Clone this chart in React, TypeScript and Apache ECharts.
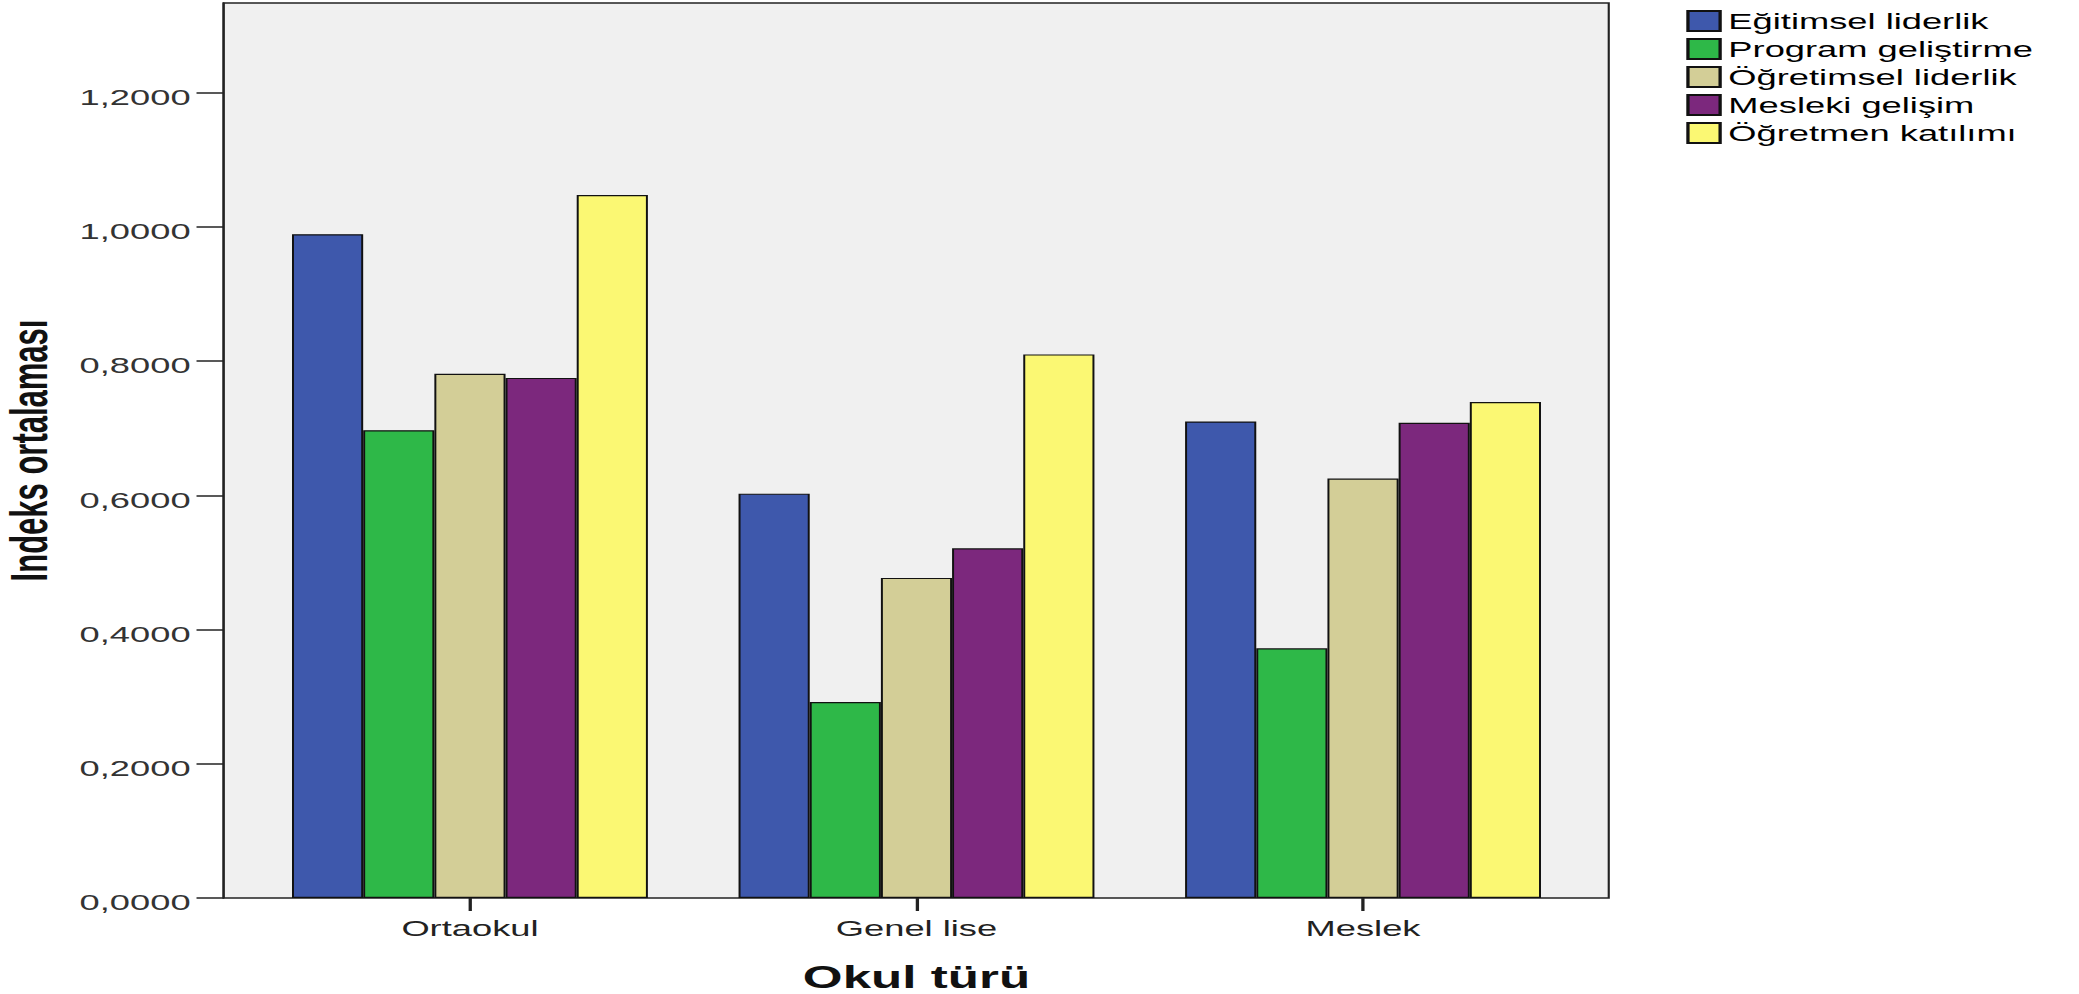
import React, { useEffect, useRef } from "react";
import * as echarts from "echarts";

const categories = ["Ortaokul", "Genel lise", "Meslek"];
const seriesNames = [
  "Eğitimsel liderlik",
  "Program geliştirme",
  "Öğretimsel liderlik",
  "Mesleki gelişim",
  "Öğretmen katılımı",
];
const egitimselLiderlik = [0.989, 0.6025, 0.71];
const programGelistirme = [0.697, 0.292, 0.372];
const ogretimselLiderlik = [0.781, 0.477, 0.625];
const meslekiGelisim = [0.775, 0.521, 0.708];
const ogretmenKatilimi = [1.0475, 0.81, 0.739];
const yTickValues = [0, 0.2, 0.4, 0.6, 0.8, 1.0, 1.2];
const colors = ["#3e58ac", "#2eb848", "#d3ce97", "#7c287d", "#fbf873"];

const SX = 1.65;
const FONT = "'Liberation Sans', Arial, sans-serif";

export default function App() {
  const ref = useRef<HTMLDivElement>(null);
  useEffect(() => {
    if (!ref.current) return;
    const chart = echarts.init(ref.current, null, { renderer: "svg" });
    const values = [
      egitimselLiderlik,
      programGelistirme,
      ogretimselLiderlik,
      meslekiGelisim,
      ogretmenKatilimi,
    ];
    const yMax = 1.3336;
    chart.setOption({
      animation: false,
      backgroundColor: "#ffffff",
      textStyle: { fontFamily: FONT },
      legend: {
        orient: "vertical",
        left: 1022,
        top: 10,
        padding: 0,
        itemWidth: 19.5,
        itemHeight: 20,
        itemGap: 6,
        icon: "rect",
        data: seriesNames,
        textStyle: { fontSize: 22, color: "#000", fontFamily: FONT, lineHeight: 20 },
      },
      grid: [
        {
          left: 135.5,
          top: 3,
          width: 839.5,
          height: 895,
          show: true,
          containLabel: false,
          outerBoundsMode: "none",
          backgroundColor: "#f0f0f0",
          borderColor: "#222",
          borderWidth: 1.3,
        },
        { left: 149.5, top: 3, width: 811.9, height: 895, containLabel: false, outerBoundsMode: "none" },
      ],
      xAxis: [
        { gridIndex: 0, type: "category", data: categories, show: false },
        {
          gridIndex: 1,
          type: "category",
          data: categories,
          axisLine: { show: false },
          axisTick: { show: true, alignWithLabel: true, length: 13, lineStyle: { color: "#222", width: 2 } },
          axisLabel: { margin: 19, fontSize: 22, color: "#222", fontFamily: FONT },
          name: "Okul türü",
          nameLocation: "middle",
          nameGap: 67.5,
          nameTextStyle: { fontSize: 31, lineHeight: 24, fontWeight: "bold", color: "#111", fontFamily: FONT },
        },
      ],
      yAxis: [
        {
          gridIndex: 0,
          type: "value",
          min: 0,
          max: yMax,
          interval: 0.2,
          splitLine: { show: false },
          axisLine: { show: true, lineStyle: { color: "#222", width: 1.3 } },
          axisTick: { show: true, length: 16.4, customValues: yTickValues, lineStyle: { color: "#222", width: 1.5 } },
          axisLabel: {
            margin: 20,
            fontSize: 22,
            color: "#333",
            fontFamily: FONT,
            verticalAlign: "top",
            lineHeight: 9,
            customValues: yTickValues,
            formatter: (v: number) => v.toFixed(4).replace(".", ","),
          },
          name: "Indeks ortalaması",
          nameLocation: "middle",
          nameRotate: 90,
          nameGap: 102,
          nameTextStyle: { fontSize: 31, fontWeight: "bold", color: "#111", fontFamily: FONT },
        },
        { gridIndex: 1, type: "value", min: 0, max: yMax, show: false, splitLine: { show: false } },
      ],
      series: seriesNames.map((name, i) => ({
        name,
        type: "bar",
        xAxisIndex: 1,
        yAxisIndex: 1,
        data: values[i],
        barGap: "0%",
        barCategoryGap: "20.3%",
        itemStyle: { color: colors[i], borderColor: "#111", borderWidth: 1.2 },
      })),
    });
    return () => chart.dispose();
  }, []);
  return (
    <div style={{ position: "fixed", left: 0, top: 0, width: 2079, height: 994, overflow: "hidden", background: "#fff" }}>
      <div style={{ transform: `scaleX(${SX})`, transformOrigin: "0 0", width: 2079 / SX, height: 994 }}>
        <div ref={ref} style={{ width: 2079 / SX, height: 994 }} />
      </div>
    </div>
  );
}
